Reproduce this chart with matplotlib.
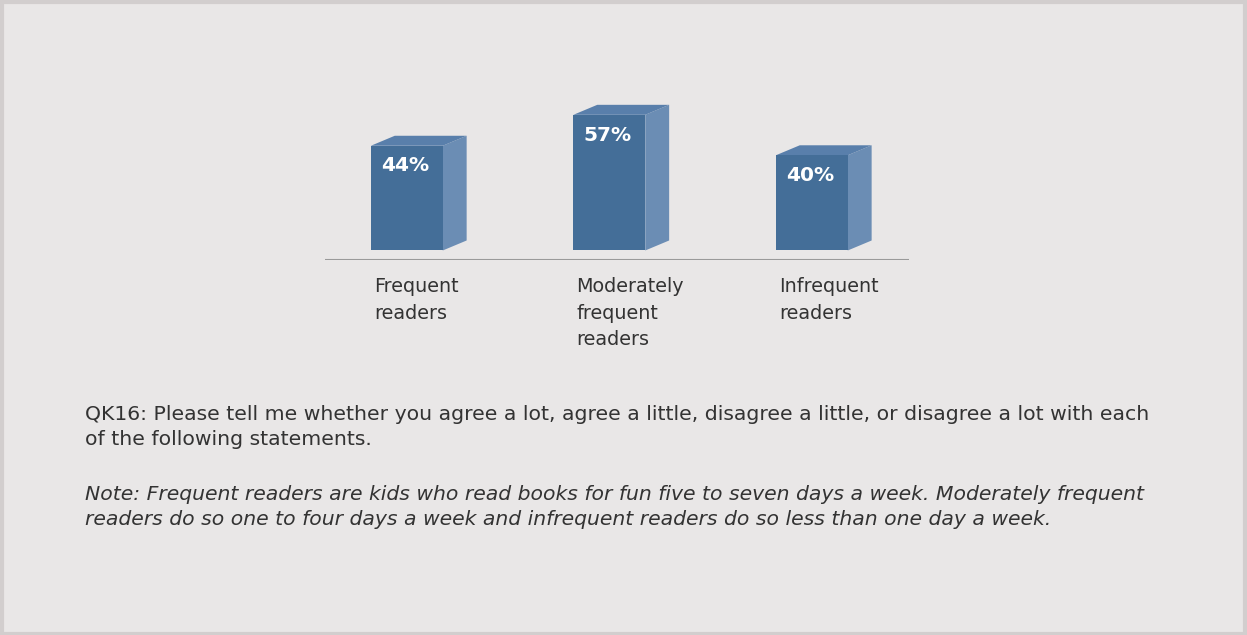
import matplotlib.pyplot as plt
from matplotlib.patches import Polygon, Rectangle

# datos del grafico
categorias = ["Frequent\nreaders", "Moderately\nfrequent\nreaders", "Infrequent\nreaders"]
valores = [44, 57, 40]
etiquetas = ["44%", "57%", "40%"]

pregunta = ("QK16: Please tell me whether you agree a lot, agree a little, disagree a little, or disagree a lot with each\n"
            "of the following statements.")
nota = ("Note: Frequent readers are kids who read books for fun five to seven days a week. Moderately frequent\n"
        "readers do so one to four days a week and infrequent readers do so less than one day a week.")

fondo = "#E9E7E7"
color_frente = "#446E98"
color_lado = "#6B8DB4"
color_arriba = "#597FAB"
texto_gris = "#333333"

plt.rcParams["font.family"] = ["DejaVu Sans"]

fig = plt.figure(figsize=(12.47, 6.35), dpi=100)
fig.patch.set_facecolor(fondo)
fig.patches.append(Rectangle((0.0015, 0.002), 0.997, 0.995, transform=fig.transFigure,
                             fill=False, edgecolor="#D2CECE", linewidth=3))

W, H = 1247, 635
ax = fig.add_axes([325 / W, 375 / H, 584 / W, 166.6 / H])
ax.set_facecolor("none")
ax.set_xlim(-0.404, 2.48)
ax.set_ylim(-4, 66)

ancho = 0.355
dx = 0.118   # profundidad en x
dy = 4.2     # profundidad en y
x = list(range(len(valores)))

ax.bar(x, valores, width=ancho, color=color_frente, linewidth=0, zorder=3)
for xi, v, et in zip(x, valores, etiquetas):
    izq = xi - ancho / 2
    der = xi + ancho / 2
    lado = Polygon([(der, 0), (der + dx, dy), (der + dx, v + dy), (der, v)],
                   closed=True, facecolor=color_lado, edgecolor="none", zorder=2)
    arriba = Polygon([(izq, v), (der, v), (der + dx, v + dy), (izq + dx, v + dy)],
                     closed=True, facecolor=color_arriba, edgecolor="none", zorder=2)
    ax.add_patch(lado)
    ax.add_patch(arriba)
    ax.text(xi - 0.01, v - 8.5, et, color="white", fontsize=14.5, fontweight="semibold",
            ha="center", va="center", zorder=4)

ax.axhline(-4, color="#9A9A9A", linewidth=1.5, zorder=1)
for s in ax.spines.values():
    s.set_visible(False)
ax.set_xticks([])
ax.set_yticks([])

# etiquetas de categoria debajo de la linea
for xi, cat in zip(x, categorias):
    ax.text(xi - ancho / 2 + 0.015, -11.3, cat, color=texto_gris, fontsize=13.8,
            ha="left", va="top", linespacing=1.5)

fig.text(85 / W, 1 - 405 / H, pregunta, color=texto_gris, fontsize=14.7,
         ha="left", va="top", linespacing=1.42)
fig.text(85 / W, 1 - 485 / H, nota, color=texto_gris, fontsize=14.7, style="italic",
         ha="left", va="top", linespacing=1.42)

plt.savefig("out.png", dpi=100, facecolor=fondo)
